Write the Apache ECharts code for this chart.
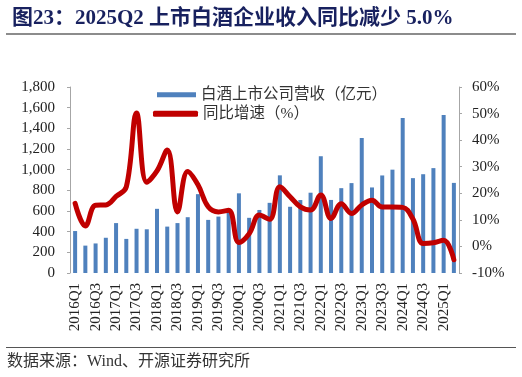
<!DOCTYPE html>
<html>
<head>
<meta charset="utf-8">
<script src="https://cdn.jsdelivr.net/npm/echarts@6/dist/echarts.min.js"></script>
<style>
  html, body { margin: 0; padding: 0; background: #fff; }
  #main { width: 522px; height: 377px; }
</style>
</head>
<body>
<div id="main"></div>
<script>
// quarters 2016Q1 .. 2025Q2
var quarters = [
  '2016Q1','2016Q2','2016Q3','2016Q4','2017Q1','2017Q2','2017Q3','2017Q4',
  '2018Q1','2018Q2','2018Q3','2018Q4','2019Q1','2019Q2','2019Q3','2019Q4',
  '2020Q1','2020Q2','2020Q3','2020Q4','2021Q1','2021Q2','2021Q3','2021Q4',
  '2022Q1','2022Q2','2022Q3','2022Q4','2023Q1','2023Q2','2023Q3','2023Q4',
  '2024Q1','2024Q2','2024Q3','2024Q4','2025Q1','2025Q2'
];
// 白酒上市公司营收（亿元）
var revenue = [
  406, 265, 286, 341, 483, 330, 428, 423,
  621, 449, 483, 540, 763, 514, 546, 612,
  771, 534, 610, 679, 945, 641, 706, 777,
  1130, 707, 821, 870, 1307, 828, 944, 1000,
  1501, 918, 956, 1015, 1528, 872
];
// 同比增速（%）
var growth = [
  16.2, 7.7, 15.5, 15.6, 18.8, 22.4, 50.2, 24.2,
  28.4, 36.3, 13.0, 28.2, 23.2, 14.9, 13.0, 13.6,
  1.5, 4.8, 11.8, 10.2, 22.5, 18.7, 14.9, 13.7,
  19.4, 10.5, 16.1, 12.4, 15.6, 17.4, 14.8, 14.8,
  14.7, 10.3, 1.1, 1.4, 2.3, -5.0
];

var serif = '"Liberation Serif", "Noto Sans CJK SC", serif';
var axisGrey = '#A6A6A6';

var myChart = echarts.init(document.getElementById('main'));
var option = {
  animation: false,
  title: {
    text: '图23：2025Q2 上市白酒企业收入同比减少 5.0%',
    left: 7,
    top: 3,
    textStyle: {
      fontFamily: serif,
      fontSize: 21,
      fontWeight: 'bold',
      color: '#18215f'
    }
  },
  graphic: [
    { type: 'rect', shape: { x: 6, y: 33, width: 510, height: 2 }, style: { fill: '#8C8C8C' } },
    { type: 'rect', shape: { x: 6, y: 347, width: 510, height: 1 }, style: { fill: '#555' } },
    {
      type: 'text', left: 7, top: 354,
      style: { text: '数据来源：Wind、开源证券研究所', font: '16px ' + serif, fill: '#333' }
    }
  ],
  legend: [
    {
      data: ['白酒上市公司营收（亿元）'],
      left: 152, top: 82,
      icon: 'rect',
      itemWidth: 39, itemHeight: 5,
      textStyle: { fontSize: 15.5, fontFamily: serif, color: '#333' }
    },
    {
      data: ['同比增速（%）'],
      left: 148, top: 101,
      icon: 'roundRect',
      itemWidth: 45, itemHeight: 6,
      textStyle: { fontSize: 15.5, fontFamily: serif, color: '#333' }
    }
  ],
  grid: { left: 70, right: 63, top: 87, bottom: 104 },
  xAxis: {
    type: 'category',
    data: quarters,
    axisLine: { show: false },
    axisTick: { show: false },
    axisLabel: {
      interval: 1,
      rotate: 90,
      margin: 10,
      fontSize: 15,
      fontFamily: serif,
      color: '#222'
    }
  },
  yAxis: [
    {
      type: 'value',
      min: 0, max: 1800, interval: 200,
      splitLine: { show: false },
      axisLine: { show: true, lineStyle: { color: axisGrey } },
      axisTick: { show: true, length: 3, lineStyle: { color: axisGrey } },
      axisLabel: {
        margin: 15,
        fontSize: 15,
        fontFamily: serif,
        color: '#222',
        formatter: function (v) { return v.toLocaleString('en-US'); }
      }
    },
    {
      type: 'value',
      min: -10, max: 60, interval: 10,
      splitLine: { show: false },
      axisLine: { show: true, lineStyle: { color: axisGrey } },
      axisTick: { show: true, length: 3, lineStyle: { color: axisGrey } },
      axisLabel: {
        margin: 13,
        fontSize: 15,
        fontFamily: serif,
        color: '#222',
        formatter: '{value}%'
      }
    }
  ],
  series: [
    {
      name: '白酒上市公司营收（亿元）',
      type: 'bar',
      data: revenue,
      barWidth: 4,
      itemStyle: { color: '#4F81BD' }
    },
    {
      name: '同比增速（%）',
      type: 'line',
      yAxisIndex: 1,
      data: growth,
      smooth: 0.4,
      symbol: 'none',
      lineStyle: { color: '#C00000', width: 5, cap: 'round', join: 'round' },
      itemStyle: { color: '#C00000' }
    }
  ]
};
myChart.setOption(option);
</script>
</body>
</html>
